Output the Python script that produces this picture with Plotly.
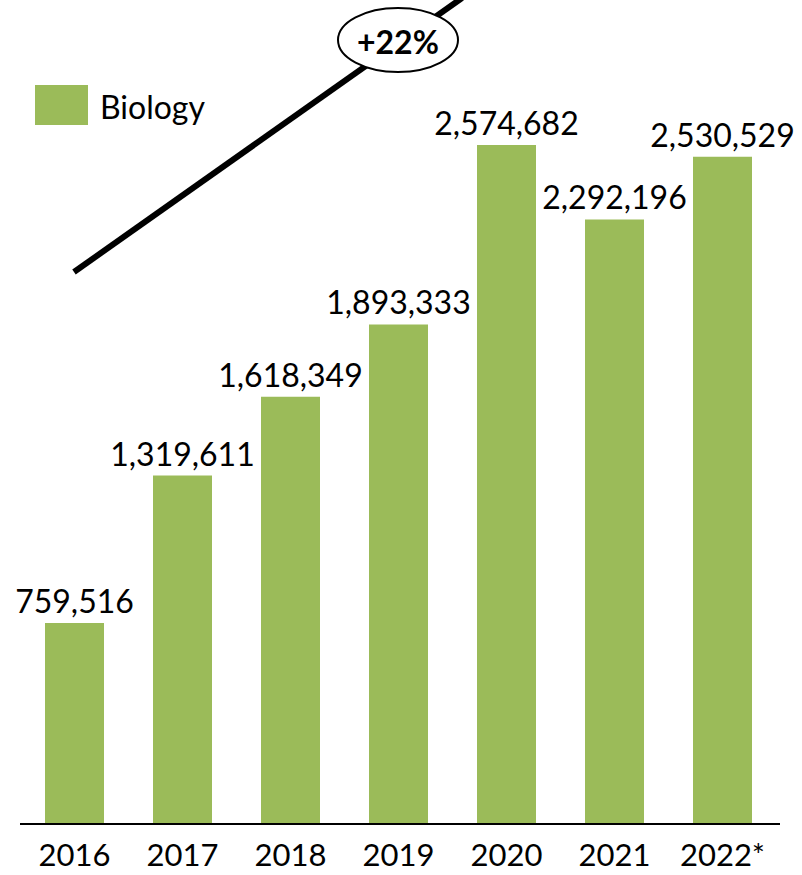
import plotly.graph_objects as go

years = ["2016", "2017", "2018", "2019", "2020", "2021", "2022*"]
biology = [759516, 1319611, 1618349, 1893333, 2574682, 2292196, 2530529]
series_name = "Biology"
growth_label = "+22%"

W, H = 802, 875
L, R, T, B = 20, 22, 0, 52
PW, PH = W - L - R, H - T - B
GREEN = "#9BBB59"
FONT = "Lato"


def px(x):
    return (x - L) / PW


def py(y):
    return (H - B - y) / PH


fig = go.Figure()
fig.add_trace(go.Bar(
    x=years, y=biology, name=series_name,
    marker=dict(color=GREEN, line=dict(width=0)),
    text=[f"{v:,}" for v in biology], textposition="outside",
    textfont=dict(family=FONT, size=32, color="black"),
    constraintext="none", cliponaxis=False, showlegend=False,
))

cat_w = 108
start = -(74.5 - L) / cat_w
fig.update_layout(
    width=W, height=H,
    margin=dict(l=L, r=R, t=T, b=B, autoexpand=False),
    plot_bgcolor="white", paper_bgcolor="white",
    bargap=1 - 59 / 108,
    xaxis=dict(range=[start, start + PW / cat_w], showline=True, linecolor="black",
               linewidth=2, ticks="", showgrid=False, automargin=False,
               tickfont=dict(family=FONT, size=31, color="black"),
               ticklabelstandoff=4),
    yaxis=dict(range=[0, PH / (678 / 2574682)], visible=False, showgrid=False),
    showlegend=False,
)

# legend swatch + label
fig.add_shape(type="rect", xref="paper", yref="paper",
              x0=px(35), x1=px(88), y0=py(125), y1=py(85),
              fillcolor=GREEN, line=dict(width=0))
fig.add_annotation(xref="paper", yref="paper", x=px(98), y=py(106),
                   xanchor="left", yanchor="middle", text=series_name, showarrow=False,
                   font=dict(family=FONT, size=32, color="black"))

# trend line with growth ellipse
fig.add_shape(type="line", xref="paper", yref="paper",
              x0=px(74), y0=py(272), x1=px(462), y1=py(-2),
              line=dict(color="black", width=6))
fig.add_shape(type="circle", xref="paper", yref="paper",
              x0=px(338), x1=px(458), y0=py(72), y1=py(8),
              fillcolor="white", line=dict(color="black", width=2))
fig.add_annotation(xref="paper", yref="paper", x=px(398), y=py(41),
                   xanchor="center", yanchor="middle", text=f"<b>{growth_label}</b>",
                   showarrow=False, font=dict(family=FONT, size=32, color="black"))

fig.write_html("out.html", config={"displayModeBar": False},
               post_script="document.body.style.margin='0';document.body.style.overflow='hidden';")
